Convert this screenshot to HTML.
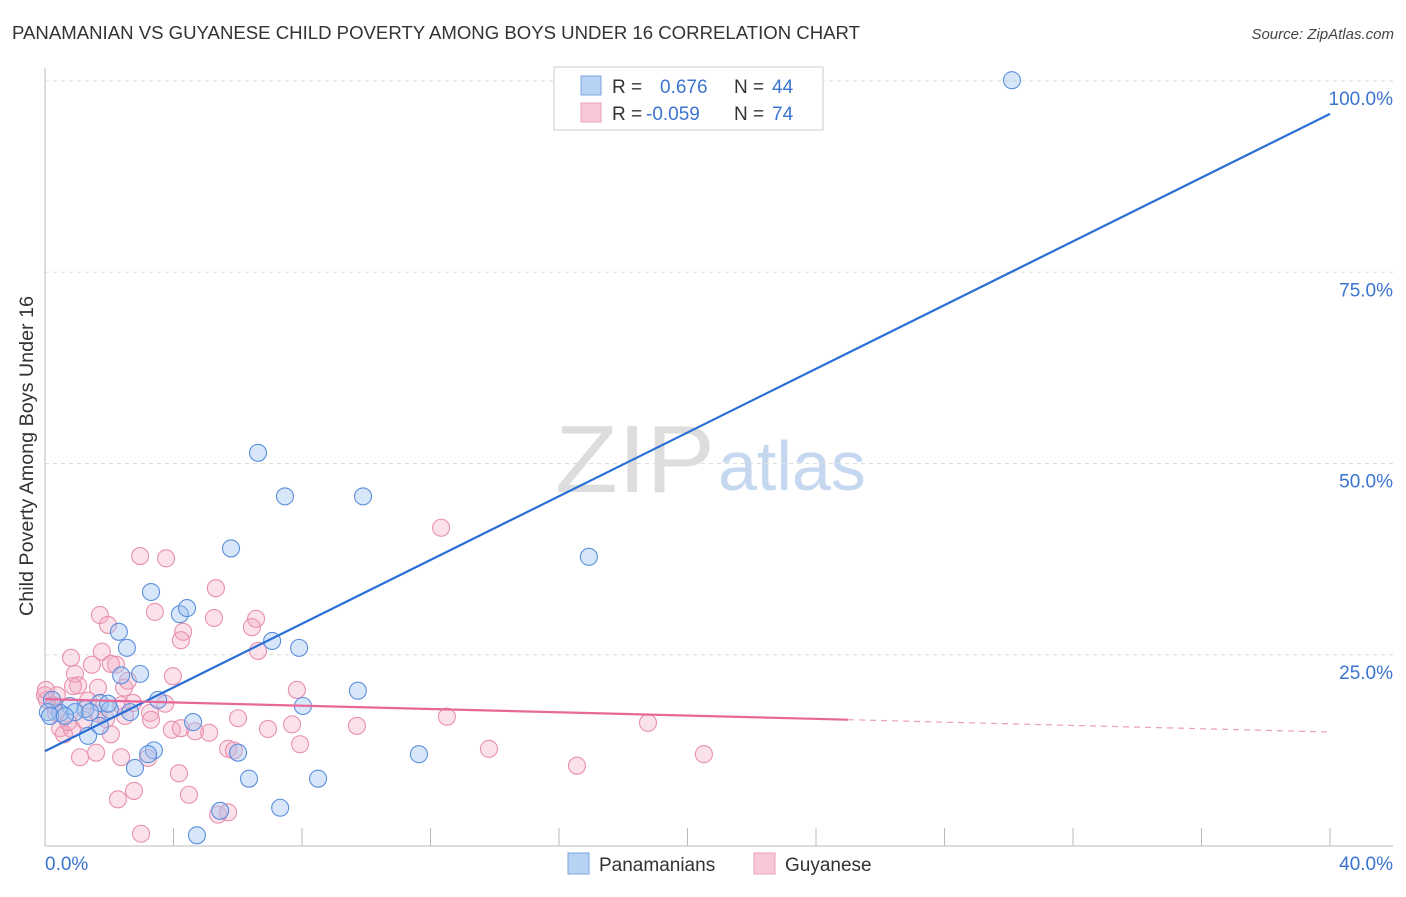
<!DOCTYPE html>
<html><head><meta charset="utf-8"><style>
body{margin:0;background:#fff;font-family:"Liberation Sans",sans-serif;}
svg text{font-family:"Liberation Sans",sans-serif;}
</style></head><body>
<svg id="chart" width="1406" height="892" xmlns="http://www.w3.org/2000/svg">
<text x="12" y="39" font-size="18" fill="#333" textLength="848" lengthAdjust="spacingAndGlyphs">PANAMANIAN VS GUYANESE CHILD POVERTY AMONG BOYS UNDER 16 CORRELATION CHART</text>
<text x="1394" y="39" font-size="15" fill="#444" text-anchor="end" font-style="italic">Source: ZipAtlas.com</text>
<text transform="translate(33,456) rotate(-90)" font-size="19" fill="#333" text-anchor="middle" textLength="320" lengthAdjust="spacingAndGlyphs">Child Poverty Among Boys Under 16</text>
<g>
<text x="555" y="492" font-size="96" font-family="Liberation Serif,serif" fill="#ddd" textLength="160" lengthAdjust="spacingAndGlyphs">ZIP</text>
<text x="718" y="490" font-size="70" fill="#c6d8f0">atlas</text>
</g>
<g id="grid"></g><g id="axes"></g><g id="pts"></g><g id="lines"></g>
<g>
<rect x="554" y="67" width="269" height="63" fill="#fff" stroke="#ccc"/>
<rect x="581" y="76" width="20" height="19" fill="#b8d2f4" stroke="#7aa6e0"/>
<rect x="581" y="103" width="20" height="19" fill="#f8c8d8" stroke="#eaa0b8"/>
<text x="612" y="93" font-size="19" fill="#333">R =</text><text x="660" y="93" font-size="19" fill="#3a74d0">0.676</text>
<text x="734" y="93" font-size="19" fill="#333">N =</text><text x="772" y="93" font-size="19" fill="#3a74d0">44</text>
<text x="612" y="120" font-size="19" fill="#333">R =</text><text x="646" y="120" font-size="19" fill="#3a74d0">-0.059</text>
<text x="734" y="120" font-size="19" fill="#333">N =</text><text x="772" y="120" font-size="19" fill="#3a74d0">74</text>
</g>
<g>
<rect x="568" y="853" width="21" height="21" fill="#b8d2f4" stroke="#7aa6e0"/>
<text x="599" y="871" font-size="19" fill="#333">Panamanians</text>
<rect x="754" y="853" width="21" height="21" fill="#f8c8d8" stroke="#eaa0b8"/>
<text x="785" y="871" font-size="19" fill="#333">Guyanese</text>
</g>
</svg>
<script>
const blueX=[30.1,6.63,7.47,9.9,5.79,16.93,3.30,4.20,4.42,2.30,2.55,7.07,7.91,2.96,2.37,9.74,3.52,8.03,4.61,3.39,3.21,2.80,6.01,11.64,6.35,8.50,5.45,7.32,4.73,1.71,1.25,0.78,0.47,0.22,0.09,0.93,1.40,2.02,2.65,0.16,1.96,1.34,1.71,0.62];
const blueY=[100.1,51.4,45.7,45.7,38.9,37.8,33.2,30.3,31.1,28.0,25.9,26.8,25.9,22.5,22.3,20.3,19.1,18.3,16.2,12.5,12.0,10.2,12.2,12.0,8.8,8.8,4.6,5.0,1.4,18.7,17.9,18.3,17.4,19.1,17.5,17.5,17.5,17.8,17.5,17.0,18.6,14.4,15.7,17.0];
const pinkX=[12.33,2.96,3.77,5.32,1.71,3.42,6.57,1.96,5.26,6.44,4.30,4.23,6.63,0.81,1.77,1.46,2.21,2.05,0.93,3.98,1.03,1.65,2.46,2.58,0.37,0.87,7.84,3.74,3.27,6.01,3.30,3.95,6.94,7.69,9.71,12.51,18.77,5.11,4.67,4.23,2.49,1.21,1.65,2.05,0.47,0.59,0.84,0.72,0.28,0.0,0.06,1.09,1.59,2.37,3.21,5.70,5.88,7.94,13.82,20.51,16.56,4.17,2.77,2.27,4.48,5.39,2.99,5.70,2.37,2.74,0.03,0.34,1.34,1.90];
const pinkY=[41.6,37.9,37.6,33.7,30.2,30.6,29.7,28.9,29.8,28.6,28.0,26.9,25.5,24.6,25.4,23.7,23.7,23.8,22.5,22.2,21.0,20.7,20.7,21.6,19.7,20.9,20.4,18.6,17.4,16.7,16.5,15.2,15.3,15.9,15.7,16.9,16.1,14.8,15.0,15.4,17.0,16.5,17.3,14.6,15.4,14.6,15.3,16.2,18.4,19.7,19.1,11.6,12.2,11.6,11.5,12.7,12.5,13.3,12.7,12.0,10.5,9.5,7.2,6.1,6.7,4.1,1.6,4.4,18.4,18.7,20.4,17.4,19.0,16.6];
const blueTrend=[12.4,95.7];
const pinkTrend=[19.2,14.9];
const pinkSolidEnd=25;
const yTicks=[25,50,75,100];
const xTickLabels=["0.0%","40.0%"];
const NS="http://www.w3.org/2000/svg";
const xs=v=>45+v/40*1285, ys=v=>846-v*7.65;
function mk(tag,attrs,parent){const e=document.createElementNS(NS,tag);for(const k in attrs)e.setAttribute(k,attrs[k]);document.getElementById(parent).appendChild(e);return e;}
yTicks.forEach(t=>{
 const g=mk('line',{x1:45,x2:1393,y1:ys(t),y2:ys(t),stroke:'#ddd','stroke-dasharray':'4,4'},'grid');
 
 
 const l=mk('text',{x:1393,y:ys(t)+24,'font-size':19,fill:'#3a74d0','text-anchor':'end'},'grid');
 l.textContent=t.toFixed(1)+'%';
 
 
});
const ax=mk('line',{x1:45,x2:45,y1:68,y2:846,stroke:'#bbb'},'axes');


const bx=mk('line',{x1:45,x2:1393,y1:846,y2:846,stroke:'#bbb'},'axes');


for(let i=1;i<=10;i++){const t=mk('line',{x1:xs(i*4),x2:xs(i*4),y1:828,y2:846,stroke:'#bbb'},'axes');
 
 }
[[0,'start',45],[1,'end',1393]].forEach(([i,a,x])=>{const t=mk('text',{x:x,y:870,'font-size':19,fill:'#3a74d0','text-anchor':a},'axes');t.textContent=xTickLabels[i];
 
 });
pinkX.forEach((v,i)=>{const c=mk('circle',{cx:xs(v),cy:ys(pinkY[i]),r:8.5,fill:'rgba(244,170,196,0.35)',stroke:'#e890ae','stroke-width':1.1},'pts');
 
 });
blueX.forEach((v,i)=>{const c=mk('circle',{cx:xs(v),cy:ys(blueY[i]),r:8.5,fill:'rgba(160,196,240,0.42)',stroke:'#5b8fdc','stroke-width':1.1},'pts');
 
 });
const bl=mk('line',{x1:xs(0),y1:ys(blueTrend[0]),x2:xs(40),y2:ys(blueTrend[1]),stroke:'#2a6fd6','stroke-width':2.2},'lines');


const pm=pinkTrend[0]+(pinkTrend[1]-pinkTrend[0])*pinkSolidEnd/40;
const pl=mk('line',{x1:xs(0),y1:ys(pinkTrend[0]),x2:xs(pinkSolidEnd),y2:ys(pm),stroke:'#e8689a','stroke-width':2.2},'lines');


const pd=mk('line',{x1:xs(pinkSolidEnd),y1:ys(pm),x2:xs(40),y2:ys(pinkTrend[1]),stroke:'#e8a0bb','stroke-width':1.2,'stroke-dasharray':'6,5'},'lines');


</script>
</body></html>
